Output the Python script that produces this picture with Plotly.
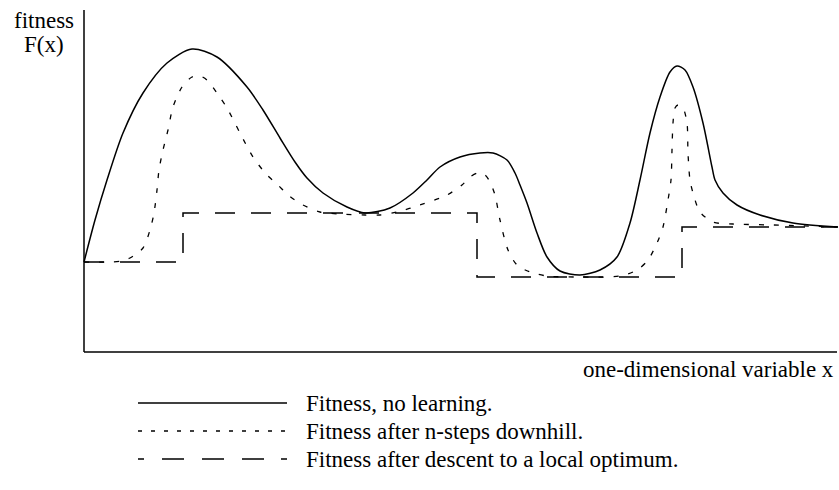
import plotly.graph_objects as go

# Data units: x = position along the one-dimensional variable, F = fitness (arbitrary units)
x_no_learning = [0, 11, 23, 39, 59, 83, 108, 133, 163, 179, 196, 211, 223, 239, 263, 281, 306, 329,
                 343, 356, 376, 396, 409, 423, 431, 436, 443, 453, 463, 476, 496, 516, 533, 546, 556,
                 566, 576, 586, 593, 601, 609, 619, 628, 631, 639, 653, 676, 709, 754]
f_no_learning = [90, 132, 172, 219, 259, 289, 303, 295, 265, 242, 214, 190, 174, 159, 145, 139, 144, 159,
                 172, 185, 195, 199, 199, 192, 179, 167, 149, 119, 95, 81, 77, 82, 95, 129, 172,
                 219, 255, 280, 286, 282, 265, 229, 185, 172, 159, 147, 137, 129, 125]

x_nsteps = [0, 26, 38, 46, 59, 66, 70, 73, 75, 79, 84, 89, 98, 108, 116, 123, 133, 143, 156, 169, 183,
            194, 204, 219, 236, 256, 281, 296, 313, 336, 363, 378, 386, 394, 401, 406, 411, 416, 424,
            433, 446, 463, 496, 536, 553, 564, 573, 579, 584, 587, 588, 589, 591, 594, 599, 603, 604,
            606, 609, 616, 629, 649, 689, 754]
f_nsteps = [90, 90, 91, 94, 104, 122, 139, 162, 182, 202, 222, 245, 265, 275, 276, 272, 259, 244, 219, 195, 177,
            167, 157, 147, 140, 138, 137, 137, 140, 147, 157, 167, 175, 179, 177, 170, 157, 132, 102,
            87, 80, 76, 75, 76, 82, 92, 109, 125, 152, 172, 202, 229, 244, 247, 244, 229, 199,
            172, 159, 140, 130, 128, 127, 125]

x_local_opt = [0, 99, 393, 598, 753]
f_local_opt = [90, 139, 75, 125, 125]

legend_labels = ["Fitness, no learning.",
                 "Fitness after n-steps downhill.",
                 "Fitness after descent to a local optimum."]

FONT = "'Liberation Serif', 'Times New Roman', Times, 'DejaVu Serif', serif"
FS = 23
fig = go.Figure()

fig.add_trace(go.Scatter(x=x_no_learning, y=f_no_learning, mode="lines",
                         line=dict(color="black", width=1.5, shape="spline", smoothing=0.8),
                         name=legend_labels[0], showlegend=False, hoverinfo="skip"))
fig.add_trace(go.Scatter(x=x_nsteps, y=f_nsteps, mode="lines",
                         line=dict(color="black", width=1.3, dash="5px,10px", shape="spline", smoothing=0.8),
                         name=legend_labels[1], showlegend=False, hoverinfo="skip"))
fig.add_trace(go.Scatter(x=x_local_opt, y=f_local_opt, mode="lines",
                         line=dict(color="black", width=1.5, dash="20px,16px", shape="hv"),
                         name=legend_labels[2], showlegend=False, hoverinfo="skip"))

# axes
fig.add_shape(type="line", x0=0, x1=0, y0=0, y1=342, line=dict(color="black", width=1.5))
fig.add_shape(type="line", x0=0, x1=753, y0=0, y1=0, line=dict(color="black", width=1.5))

# manual legend
leg_dash = ["solid", "4px,9px", "6px,18px,22px,18px,22px,18px,22px,17px,6px"]
leg_y = [-51, -79, -107]
for lab, d, yy in zip(legend_labels, leg_dash, leg_y):
    fig.add_shape(type="line", x0=54, x1=203, y0=yy, y1=yy,
                  line=dict(color="black", width=1.3, dash=d))
    fig.add_annotation(x=220, y=yy, text=lab, showarrow=False, xanchor="left", yanchor="middle",
                       font=dict(family=FONT, size=FS, color="black"))

fig.add_annotation(x=-40, y=332, text="fitness", showarrow=False, xanchor="center", yanchor="middle",
                   font=dict(family=FONT, size=FS, color="black"))
fig.add_annotation(x=-40, y=308, text="F(x)", showarrow=False, xanchor="center", yanchor="middle",
                   font=dict(family=FONT, size=FS, color="black"))
fig.add_annotation(x=752, y=-17, text="one-dimensional variable x", showarrow=False,
                   xanchor="right", yanchor="middle",
                   font=dict(family=FONT, size=FS, color="black"))

fig.update_layout(width=839, height=490, autosize=False,
                  margin=dict(l=0, r=0, t=0, b=0, pad=0),
                  paper_bgcolor="white", plot_bgcolor="white",
                  font=dict(family=FONT),
                  xaxis=dict(range=[-84, 755], visible=False, fixedrange=True),
                  yaxis=dict(range=[-138, 352], visible=False, fixedrange=True),
                  showlegend=False)

fig.write_html("out.html", config={"displayModeBar": False, "staticPlot": True},
               post_script="document.body.style.margin='0px';document.body.style.overflow='hidden';")
